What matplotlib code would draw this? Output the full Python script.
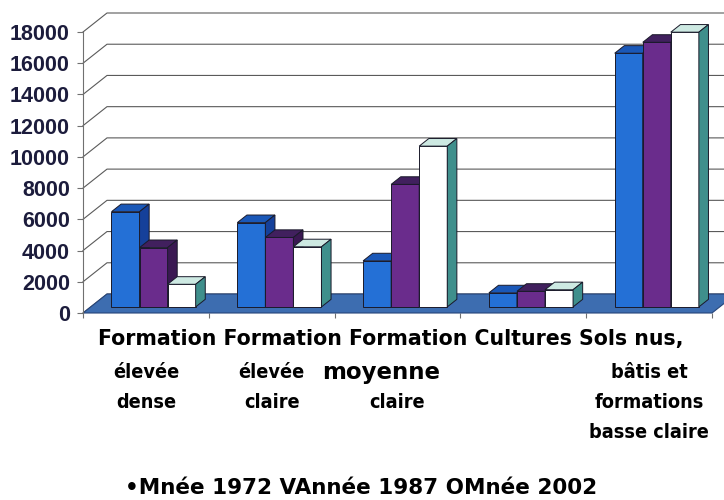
import matplotlib.pyplot as plt
import matplotlib.transforms as mtransforms
from matplotlib.patches import Polygon

# Land cover classes (label lines) and surfaces per year
categories = [
    ["Formation", "élevée", "dense"],
    ["Formation", "élevée", "claire"],
    ["Formation", "moyenne", "claire"],
    ["Cultures"],
    ["Sols nus,", "bâtis et", "formations", "basse claire"],
]
v1972 = [6100, 5400, 2950, 900, 16250]
v1987 = [3800, 4450, 7850, 1000, 16950]
v2002 = [1450, 3850, 10300, 1100, 17600]
legend_labels = ["•Mnée 1972", "VAnnée 1987", "OMnée 2002"]
yticks = list(range(0, 18001, 2000))

# face colours for each series: front, top, side
series_colors = [
    ("#2470d6", "#1a58b8", "#15409a"),
    ("#6a2c8c", "#41205e", "#3a1852"),
    ("#ffffff", "#cde9e2", "#3f8f8c"),
]
series_values = [v1972, v1987, v2002]


def main():
    fig = plt.figure(figsize=(7.24, 5.0), dpi=100)
    ax = fig.add_axes([83 / 724, 187 / 500, 629 / 724, 281 / 500])
    ax.set_xlim(-0.5, 4.5)
    ax.set_ylim(0, 18000)

    # oblique depth of the plot box, in data units
    DX = 24 / 125.8
    DY = 19 * 18000 / 281
    f0, f1 = 0.32, 0.72      # bar front / back depth fractions
    w = 0.223                # bar width

    # back wall and side wall gridlines
    for v in yticks:
        ax.plot([-0.5, -0.5 + DX, 4.5 + DX + 0.2], [v, v + DY, v + DY],
                color="#5a5a5a", lw=0.8, clip_on=False, zorder=1)

    # floor
    floor = Polygon([(-0.5, 0), (4.5, 0), (4.5 + DX, DY), (-0.5 + DX, DY)],
                    closed=True, facecolor="#3d6db0", edgecolor="#27457a",
                    lw=0.8, clip_on=False, zorder=2)
    ax.add_patch(floor)

    ddx = (f1 - f0) * DX
    ddy = (f1 - f0) * DY
    base = f0 * DY
    for i in range(len(categories)):
        for j, vals in enumerate(series_values):
            front, top, side = series_colors[j]
            x0 = i - 1.5 * w + j * w + f0 * DX
            v = vals[i]
            kw = dict(closed=True, edgecolor="#1a1a2a", lw=0.7,
                      clip_on=False, zorder=3 + i * 3 + j)
            ax.add_patch(Polygon([(x0, base), (x0 + w, base), (x0 + w, base + v),
                                  (x0, base + v)], facecolor=front, **kw))
            ax.add_patch(Polygon([(x0, base + v), (x0 + w, base + v),
                                  (x0 + w + ddx, base + v + ddy),
                                  (x0 + ddx, base + v + ddy)], facecolor=top, **kw))
            ax.add_patch(Polygon([(x0 + w, base), (x0 + w, base + v),
                                  (x0 + w + ddx, base + v + ddy),
                                  (x0 + w + ddx, base + ddy)], facecolor=side, **kw))

    # axes styling
    for s in ["top", "right", "bottom"]:
        ax.spines[s].set_visible(False)
    ax.spines["left"].set_color("#707070")
    ax.spines["left"].set_linewidth(0.8)
    ax.set_yticks(yticks)
    ax.set_yticklabels([str(t) for t in yticks])
    ax.set_xticks([k - 0.5 for k in range(6)])
    ax.set_xticklabels([])
    ax.tick_params(axis="y", direction="out", length=4.5, width=0.8,
                   color="#707070", pad=5, labelcolor="#1c1c3c")
    ax.tick_params(axis="x", direction="out", length=3.5, width=0.8,
                   color="#707070")
    for lab in ax.get_yticklabels():
        lab.set_fontfamily("Liberation Sans")
        lab.set_fontweight("bold")
        lab.set_fontsize(15.5)
    ax.patch.set_visible(False)

    # category labels
    trans = mtransforms.blended_transform_factory(ax.transData, fig.transFigure)
    lab_font = dict(family="DejaVu Sans", fontstretch="condensed",
                    fontweight="bold", fontsize=14.2, color="black")
    first_line = " ".join(c[0] for c in categories)
    ax.text(1.95, 1 - 339 / 500, first_line, transform=trans,
            ha="center", va="center", family="DejaVu Sans",
            fontweight="bold", fontsize=14.8, color="black")
    line_y = [372, 402, 432]
    for i, lines in enumerate(categories):
        for k, txt in enumerate(lines[1:]):
            font = dict(lab_font)
            if txt == "moyenne":
                font["fontstretch"] = "normal"
                font["fontsize"] = 16.5
                xi = i - 0.13
            else:
                xi = i
            ax.text(xi, 1 - line_y[k] / 500, txt, transform=trans,
                    ha="center", va="center", **font)

    # legend line
    fig.text(361 / 724, 1 - 488 / 500, " ".join(legend_labels),
             ha="center", va="center", family="DejaVu Sans",
             fontweight="bold", fontsize=15.5, color="black")

    fig.savefig("out.png", dpi=100)


if __name__ == "__main__":
    main()
